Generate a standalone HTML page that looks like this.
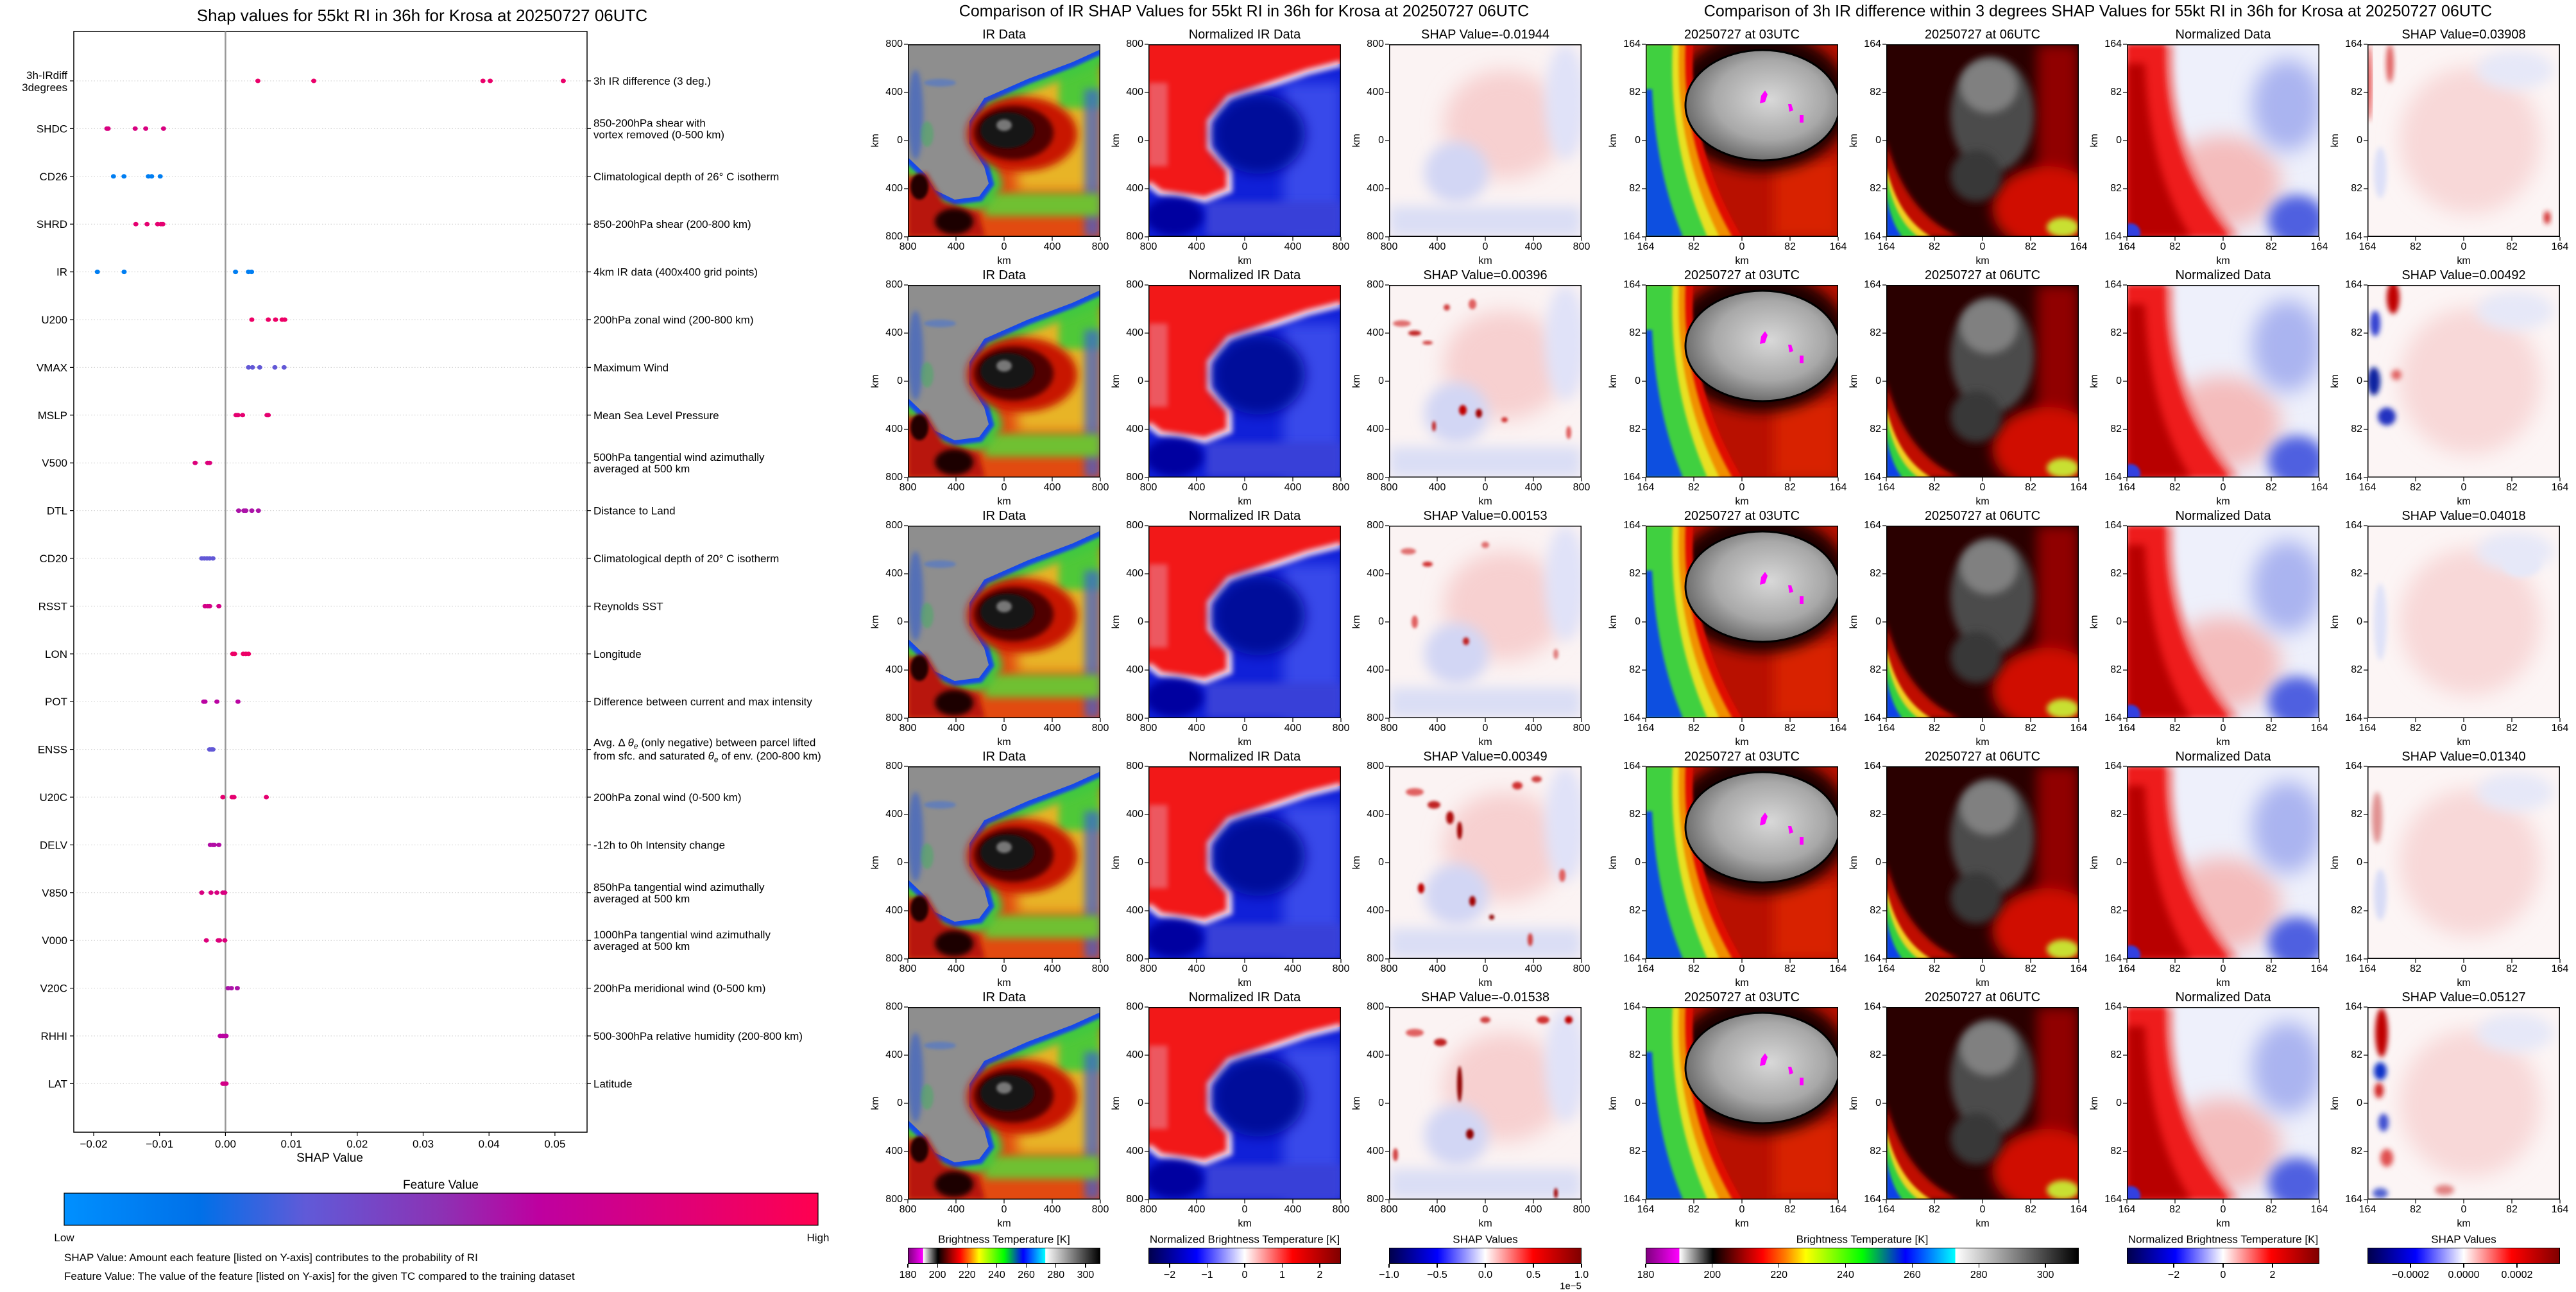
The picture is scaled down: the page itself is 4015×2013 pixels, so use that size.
<!DOCTYPE html>
<html><head><meta charset="utf-8">
<style>
body{margin:0;width:4015px;height:2009px;background:#fff;position:relative;overflow:hidden;font-family:"Liberation Sans",sans-serif;color:#000}
.t{position:absolute;white-space:nowrap;line-height:1}
.panel{position:absolute;width:300px;height:300px}
.panel svg{overflow:visible;display:block}
.cb{position:absolute;height:25px;box-sizing:border-box;border:1.5px solid #000}
</style></head>
<body>
<svg width="0" height="0" style="position:absolute"><defs>
<clipPath id="pc" clipPathUnits="userSpaceOnUse"><rect x="0" y="0" width="300" height="300"/></clipPath>
<filter id="b2" x="-50%" y="-50%" width="200%" height="200%"><feGaussianBlur stdDeviation="2"/></filter>
<filter id="b4" x="-50%" y="-50%" width="200%" height="200%"><feGaussianBlur stdDeviation="4"/></filter>
<filter id="b6" x="-50%" y="-50%" width="200%" height="200%"><feGaussianBlur stdDeviation="6"/></filter>
<filter id="b10" x="-50%" y="-50%" width="200%" height="200%"><feGaussianBlur stdDeviation="10"/></filter>
<filter id="b16" x="-50%" y="-50%" width="200%" height="200%"><feGaussianBlur stdDeviation="16"/></filter>
<radialGradient id="cloudG" cx="0.55" cy="0.45" r="0.6"><stop offset="0" stop-color="#d8d8d8"/><stop offset="0.6" stop-color="#a8a8a8"/><stop offset="1" stop-color="#606060"/></radialGradient>
</defs></svg>

<svg id="shapchart" width="1320" height="2009" style="position:absolute;left:0;top:0"></svg>

<script>
// ---------- SHAP summary chart data ----------
const features = ["3h-IRdiff|3degrees","SHDC","CD26","SHRD","IR","U200","VMAX","MSLP","V500","DTL","CD20","RSST","LON","POT","ENSS","U20C","DELV","V850","V000","V20C","RHHI","LAT"];
const descriptions = ["3h IR difference (3 deg.)","850-200hPa shear with|vortex removed (0-500 km)","Climatological depth of 26° C isotherm","850-200hPa shear (200-800 km)","4km IR data (400x400 grid points)","200hPa zonal wind (200-800 km)","Maximum Wind","Mean Sea Level Pressure","500hPa tangential wind azimuthally|averaged at 500 km","Distance to Land","Climatological depth of 20° C isotherm","Reynolds SST","Longitude","Difference between current and max intensity","ENSS","200hPa zonal wind (0-500 km)","-12h to 0h Intensity change","850hPa tangential wind azimuthally|averaged at 500 km","1000hPa tangential wind azimuthally|averaged at 500 km","200hPa meridional wind (0-500 km)","500-300hPa relative humidity (200-800 km)","Latitude"];
const shapVals = [
 [0.00492,0.01340,0.03908,0.04018,0.05127],
 [-0.0180,-0.0178,-0.0137,-0.0121,-0.0094],
 [-0.0170,-0.0154,-0.0117,-0.0112,-0.0099],
 [-0.0136,-0.0119,-0.0103,-0.0098,-0.0095],
 [-0.01944,-0.01538,0.00153,0.00349,0.00396],
 [0.0040,0.0065,0.0076,0.0086,0.0090],
 [0.0035,0.0041,0.0052,0.0075,0.0089],
 [0.0016,0.0019,0.0026,0.0063,0.0065],
 [-0.0046,-0.0027,-0.0024],
 [0.0020,0.0028,0.0031,0.0040,0.0050],
 [-0.0036,-0.0032,-0.0028,-0.0024,-0.0019],
 [-0.0031,-0.0027,-0.0024,-0.0010],
 [0.0011,0.0014,0.0027,0.0031,0.0035],
 [-0.0033,-0.0031,-0.0013,0.0019],
 [-0.0024,-0.0021,-0.0019],
 [-0.0004,0.0010,0.0013,0.0062],
 [-0.0023,-0.0019,-0.0017,-0.0010],
 [-0.0036,-0.0022,-0.0013,-0.0004,-0.0001],
 [-0.0029,-0.0011,-0.0009,-0.0001],
 [0.0004,0.0009,0.0018],
 [-0.0008,-0.0004,0.0000,0.0001],
 [-0.0004,-0.0002,0.0001]
];
const featureVals = [0.88,0.78,0.1,0.85,0.1,0.9,0.33,0.85,0.8,0.58,0.33,0.75,0.9,0.62,0.33,0.85,0.6,0.78,0.8,0.58,0.62,0.75];
const xTickVals = [-0.02,-0.01,0,0.01,0.02,0.03,0.04,0.05];
const xTickLabels = ["\u22120.02","\u22120.01","0.00","0.01","0.02","0.03","0.04","0.05"];

const NS="http://www.w3.org/2000/svg";
const AX={l:115,r:915,t:49,b:1764};
function xS(v){return 351.4+v*10270;}
function yR(i){return 126+i*74.4;}
const cStops=[[0,[0,144,255]],[0.18,[0,112,232]],[0.32,[96,90,216]],[0.5,[140,50,180]],[0.63,[190,0,160]],[1,[255,0,80]]];
function fcol(v){for(let i=1;i<cStops.length;i++){if(v<=cStops[i][0]){const a=cStops[i-1],b=cStops[i];const f=(v-a[0])/(b[0]-a[0]);return 'rgb('+a[1].map((c,k)=>Math.round(c+(b[1][k]-c)*f)).join(',')+')';}}return 'rgb(255,0,80)';}
const S=document.getElementById('shapchart');
function sv(tag,attrs,parent){const e=document.createElementNS(NS,tag);for(const k in attrs)e.setAttribute(k,attrs[k]);(parent||S).appendChild(e);return e;}

let e;
e=sv('text',{x:658,y:33,'text-anchor':'middle','font-size':26,'font-family':'Liberation Sans'});e.textContent="Shap values for 55kt RI in 36h for Krosa at 20250727 06UTC";


e=sv('rect',{x:AX.l,y:AX.t,width:AX.r-AX.l,height:AX.b-AX.t,fill:'none',stroke:'#000','stroke-width':1.5});


e=sv('line',{x1:xS(0),x2:xS(0),y1:AX.t,y2:AX.b,stroke:'#999','stroke-width':2.5});



features.forEach((f,i)=>{
  const y=yR(i);
  const g=sv('line',{x1:AX.l,x2:AX.r,y1:y,y2:y,stroke:'#ccc','stroke-width':1,'stroke-dasharray':'1.5,3'});
  
  
  sv('line',{x1:AX.l-6,x2:AX.l,y1:y,y2:y,stroke:'#000','stroke-width':1.2});
  sv('line',{x1:AX.r,x2:AX.r+6,y1:y,y2:y,stroke:'#000','stroke-width':1.2});
  const parts=f.split('|');
  const tl=sv('text',{x:AX.l-10,y:y+6,'text-anchor':'end','font-size':17,'font-family':'Liberation Sans'});
  if(parts.length===1){tl.textContent=f;}else{
    const a=sv('tspan',{x:AX.l-10,y:y-3},tl);a.textContent=parts[0];
    const b=sv('tspan',{x:AX.l-10,y:y+16},tl);b.textContent=parts[1];}
  
  
  const tr=sv('text',{x:AX.r+10,y:y+6,'font-size':17,'font-family':'Liberation Sans'});
  const d=descriptions[i];
  if(f==='ENSS'){
    const a=sv('tspan',{x:AX.r+10,y:y-5},tr);a.innerHTML='Avg. \u0394 <tspan font-style="italic">\u03b8</tspan><tspan font-size="12" dy="4" font-style="italic">e</tspan><tspan dy="-4"> (only negative) between parcel lifted</tspan>';
    const b=sv('tspan',{x:AX.r+10,y:y+16},tr);b.innerHTML='from sfc. and saturated <tspan font-style="italic">\u03b8</tspan><tspan font-size="12" dy="4" font-style="italic">e</tspan><tspan dy="-4"> of env. (200-800 km)</tspan>';
  } else {
    const dp=d.split('|');
    if(dp.length===1){tr.textContent=d;}else{
      const a=sv('tspan',{x:AX.r+10,y:y-3},tr);a.textContent=dp[0];
      const b=sv('tspan',{x:AX.r+10,y:y+15},tr);b.textContent=dp[1];}
  }
  
  
  shapVals[i].forEach(v=>{
    const dot=sv('ellipse',{cx:xS(v),cy:y,rx:4,ry:3.5,fill:fcol(featureVals[i])});
    
    
  });
});
xTickVals.forEach((v,k)=>{
  sv('line',{x1:xS(v),x2:xS(v),y1:AX.b,y2:AX.b+6,stroke:'#000','stroke-width':1.2});
  const t=sv('text',{x:xS(v),y:AX.b+24,'text-anchor':'middle','font-size':17,'font-family':'Liberation Sans'});
  t.textContent=xTickLabels[k];
  
  
});
e=sv('text',{x:514,y:1810,'text-anchor':'middle','font-size':19,'font-family':'Liberation Sans'});e.textContent="SHAP Value";


e=sv('text',{x:687,y:1852,'text-anchor':'middle','font-size':19,'font-family':'Liberation Sans'});e.textContent="Feature Value";


const defs=sv('defs',{});
const lg=sv('linearGradient',{id:'fvG',x1:0,x2:1,y1:0,y2:0},defs);
cStops.forEach(s=>sv('stop',{offset:s[0],'stop-color':'rgb('+s[1].join(',')+')'},lg));
e=sv('rect',{x:100,y:1859,width:1175,height:50,fill:'url(#fvG)',stroke:'#000','stroke-width':1.2});


e=sv('text',{x:100,y:1934,'text-anchor':'middle','font-size':17,'font-family':'Liberation Sans'});e.textContent="Low";


e=sv('text',{x:1275,y:1934,'text-anchor':'middle','font-size':17,'font-family':'Liberation Sans'});e.textContent="High";


e=sv('text',{x:100,y:1965,'font-size':17,'font-family':'Liberation Sans'});e.textContent="SHAP Value: Amount each feature [listed on Y-axis] contributes to the probability of RI";


e=sv('text',{x:100,y:1994,'font-size':17,'font-family':'Liberation Sans'});e.textContent="Feature Value: The value of the feature [listed on Y-axis] for the given TC compared to the training dataset";



// ---------- image panels ----------
const rowTops=[69,444,819,1194,1569];
const leftCols=[1415,1790,2165];
const rightCols=[2565,2940,3315,3690];
const leftShap=["SHAP Value=-0.01944","SHAP Value=0.00396","SHAP Value=0.00153","SHAP Value=0.00349","SHAP Value=-0.01538"];
const rightShap=["SHAP Value=0.03908","SHAP Value=0.00492","SHAP Value=0.04018","SHAP Value=0.01340","SHAP Value=0.05127"];

function T(str,x,y,size,ax,rot){
  const d=document.createElement('div');
  d.className='t';d.textContent=str;
  d.style.left=x+'px';d.style.top=y+'px';d.style.fontSize=size+'px';
  const tx=ax==='c'?'-50%':ax==='r'?'-100%':'0';
  d.style.transform='translate('+tx+',-50%)'+(rot?' rotate(-90deg)':'');
  document.body.appendChild(d);return d;
}

const Gopen="M300,8 L256,28 L187,54 L119,84 L96,120 L96,155 L119,191 L126,217 L111,237 L73,242 L42,227 L27,202 L0,176";
const IRsvg=`<rect width="300" height="300" fill="#e24a10"/>
<rect x="170" y="40" width="130" height="190" fill="#e8b428" filter="url(#b10)"/>
<rect x="235" y="10" width="65" height="90" fill="#50c838" filter="url(#b6)"/>
<rect x="275" y="70" width="25" height="230" fill="#3a60d8" opacity="0.7" filter="url(#b6)"/>
<rect x="120" y="232" width="180" height="36" fill="#70c030" filter="url(#b6)"/>
<path d="${Gopen}" fill="none" stroke="#40c840" stroke-width="40" filter="url(#b6)"/>
<path d="${Gopen}" fill="none" stroke="#1848e8" stroke-width="16" filter="url(#b2)"/>
<path d="M0,0 L300,0 L${Gopen.slice(1)} Z" fill="#8e8e8e"/>
<ellipse cx="12" cy="110" rx="12" ry="70" fill="#2858d8" opacity="0.55" filter="url(#b4)"/>
<ellipse cx="50" cy="60" rx="25" ry="6" fill="#3a70e0" opacity="0.5" filter="url(#b2)"/>
<ellipse cx="30" cy="140" rx="10" ry="20" fill="#40b060" opacity="0.5" filter="url(#b2)"/>
<path d="M0,208 L28,200 L55,245 L110,262 L120,300 L0,300Z" fill="#b81808" filter="url(#b4)"/>
<ellipse cx="72" cy="276" rx="30" ry="20" fill="#1a0000" filter="url(#b4)"/>
<ellipse cx="18" cy="222" rx="14" ry="20" fill="#200000" filter="url(#b2)"/>
<ellipse cx="178" cy="140" rx="86" ry="58" fill="#c81800" filter="url(#b6)"/>
<ellipse cx="165" cy="138" rx="62" ry="42" fill="#500000" filter="url(#b4)"/>
<ellipse cx="155" cy="134" rx="42" ry="28" fill="#141414" filter="url(#b2)"/>
<ellipse cx="150" cy="126" rx="12" ry="9" fill="#777" filter="url(#b2)"/>`;
const Ropen="M300,30 L248,43 L187,64 L126,84 L96,120 L96,161 L126,196 L126,227 L88,242 L19,232 L0,217";
const NORMsvg=`<rect width="300" height="300" fill="#1020d8"/>
<rect x="210" y="60" width="90" height="240" fill="#3848ea" filter="url(#b10)"/>
<rect x="90" y="245" width="210" height="55" fill="#3840d8" filter="url(#b6)"/>
<path d="M0,0 L300,0 L${Ropen.slice(1)} Z" fill="#f21818"/>
<path d="${Ropen}" fill="none" stroke="#e8d0e8" stroke-width="10" filter="url(#b4)"/>
<rect x="0" y="60" width="30" height="130" fill="#e898a8" opacity="0.5" filter="url(#b4)"/>
<ellipse cx="172" cy="140" rx="72" ry="62" fill="#000a9a" filter="url(#b10)"/>
<ellipse cx="40" cy="268" rx="45" ry="30" fill="#0000a0" filter="url(#b6)"/>`;
const shapSpeck=[
 [],
 [[20,60,14,5,'#e07070'],[40,75,10,4,'#c02020'],[60,90,8,3,'#d04040'],[115,195,6,8,'#c00000'],[140,200,5,7,'#a00000'],[70,220,3,8,'#c02020'],[180,210,5,4,'#d03030'],[280,230,4,10,'#e06060'],[130,30,6,8,'#e06060'],[90,35,5,5,'#d04040']],
 [[30,40,12,5,'#e07070'],[60,60,8,4,'#d03030'],[120,180,5,6,'#c02020'],[40,150,5,10,'#e06060'],[150,30,6,5,'#e07070'],[260,200,4,8,'#e08080']],
 [[40,40,14,6,'#e06060'],[70,60,10,6,'#c02020'],[95,80,6,10,'#b01010'],[110,100,4,14,'#a00000'],[50,190,5,8,'#c00000'],[130,210,5,8,'#a00000'],[160,235,4,4,'#900000'],[200,30,8,6,'#d03030'],[230,20,8,5,'#d04040'],[270,170,5,10,'#e06060'],[220,270,4,10,'#d04040']],
 [[40,40,14,6,'#e06060'],[80,55,10,6,'#c02020'],[110,120,4,28,'#900000'],[126,198,6,8,'#900000'],[150,20,8,5,'#d04040'],[240,20,10,6,'#d03030'],[280,20,6,6,'#c00000'],[260,290,3,8,'#a00000'],[10,230,4,10,'#d04040']]
];
function SHAPsvg(r){
  let s=`<rect width="300" height="300" fill="#fbf3f3"/>
<ellipse cx="180" cy="125" rx="95" ry="85" fill="#f7d0d0" filter="url(#b16)"/>
<ellipse cx="105" cy="200" rx="50" ry="48" fill="#d2d6f4" filter="url(#b10)"/>
<rect x="0" y="252" width="300" height="48" fill="#dadef5" filter="url(#b10)"/>
<ellipse cx="275" cy="90" rx="32" ry="90" fill="#e0e2f8" filter="url(#b10)"/>`;
  shapSpeck[r].forEach(p=>{s+=`<ellipse cx="${p[0]}" cy="${p[1]}" rx="${p[2]}" ry="${p[3]}" fill="${p[4]}" filter="url(#b2)"/>`;});
  return s;
}
const D03svg=`<rect width="300" height="300" fill="#b81000"/>
<rect x="200" y="180" width="100" height="120" fill="#d82000" filter="url(#b10)"/>
<ellipse cx="180" cy="90" rx="138" ry="108" fill="#1a0000" filter="url(#b10)"/>
<path d="M0,0 L74,0 Q66,160 150,300 L0,300Z" fill="#e01000" filter="url(#b2)"/>
<path d="M0,0 L62,0 Q55,160 135,300 L0,300Z" fill="#f09000" filter="url(#b2)"/>
<path d="M0,0 L52,0 Q45,160 115,300 L0,300Z" fill="#e8e020" filter="url(#b2)"/>
<path d="M0,0 L42,0 Q35,160 96,300 L0,300Z" fill="#40d040" filter="url(#b2)"/>
<path d="M0,70 L10,70 Q16,200 58,300 L0,300Z" fill="#1050e0" filter="url(#b2)"/>
<ellipse cx="182" cy="95" rx="120" ry="86" fill="url(#cloudG)" stroke="#000" stroke-width="3"/>
<path d="M180,80 l6,-8 l4,6 l-4,12 l-8,2Z" fill="#ff00ff"/>
<path d="M222,93 l5,0 l3,10 l-6,2Z" fill="#ff00ff"/>
<path d="M240,110 l6,0 l0,12 l-6,0Z" fill="#ff00ff"/>`;
const D06svg=`<rect width="300" height="300" fill="#2a0000"/>
<rect x="235" y="0" width="65" height="300" fill="#900000" filter="url(#b10)"/>
<ellipse cx="250" cy="255" rx="85" ry="65" fill="#d01000" filter="url(#b10)"/>
<ellipse cx="275" cy="285" rx="25" ry="15" fill="#c8e030" filter="url(#b4)"/>
<path d="M0,150 Q30,265 115,300 L0,300Z" fill="#c01000" filter="url(#b4)"/>
<path d="M0,190 Q18,270 70,300 L0,300Z" fill="#f0d020" filter="url(#b2)"/>
<path d="M0,205 Q14,275 50,300 L0,300Z" fill="#30d040" filter="url(#b2)"/>
<path d="M0,235 Q8,280 25,300 L0,300Z" fill="#1040e8" filter="url(#b2)"/>
<ellipse cx="165" cy="110" rx="65" ry="90" fill="#4c4c4c" filter="url(#b6)"/>
<ellipse cx="160" cy="65" rx="45" ry="42" fill="#808080" filter="url(#b6)"/>
<ellipse cx="140" cy="205" rx="40" ry="40" fill="#383838" filter="url(#b6)"/>`;
const NDsvg=`<rect width="300" height="300" fill="#eef0fb"/>
<ellipse cx="150" cy="215" rx="90" ry="72" fill="#f4bcbc" filter="url(#b16)"/>
<ellipse cx="250" cy="95" rx="55" ry="72" fill="#aab4f0" filter="url(#b16)"/>
<ellipse cx="265" cy="275" rx="45" ry="40" fill="#5060e0" filter="url(#b10)"/>
<path d="M0,0 L72,0 Q66,170 175,300 L0,300Z" fill="#f07a7a" filter="url(#b6)"/>
<path d="M0,0 L60,0 Q54,170 160,300 L0,300Z" fill="#ee1a1a" filter="url(#b4)"/>
<path d="M0,30 L28,30 Q35,200 100,300 L0,300Z" fill="#b80000" filter="url(#b6)"/>
<ellipse cx="6" cy="294" rx="15" ry="15" fill="#3040e0" filter="url(#b2)"/>`;
const rightSpeck=[
 [[3,60,3,60,'#e02020'],[35,30,6,30,'#e06060'],[280,270,5,10,'#d02020'],[20,200,10,40,'#dde0f8']],
 [[40,20,10,25,'#c00000'],[12,60,8,20,'#3040d0'],[10,150,10,22,'#1020a0'],[30,205,14,14,'#2030c0'],[45,140,8,8,'#e06060']],
 [[20,150,10,60,'#dfe2f8'],[240,60,30,20,'#e6e8f8']],
 [[15,80,8,40,'#e09090'],[20,200,10,40,'#d8dcf6']],
 [[22,40,10,38,'#c00000'],[20,100,10,14,'#1030c8'],[18,130,7,12,'#d02020'],[25,180,8,14,'#4050d0'],[30,235,10,14,'#e05050'],[20,290,12,8,'#5060d0'],[120,285,15,8,'#e08080']]
];
function RSsvg(r){
  let s=`<rect width="300" height="300" fill="#fcf5f5"/>
<ellipse cx="160" cy="150" rx="110" ry="115" fill="#f8d8d8" filter="url(#b16)"/>
<ellipse cx="230" cy="40" rx="60" ry="30" fill="#e6e8f8" filter="url(#b10)"/>`;
  rightSpeck[r].forEach(p=>{s+=`<ellipse cx="${p[0]}" cy="${p[1]}" rx="${p[2]}" ry="${p[3]}" fill="${p[4]}" filter="url(#b4)"/>`;});
  return s;
}

function panel(x,y,inner,name,ticks,ylabel){
  const d=document.createElement('div');
  d.className='panel';d.style.left=x+'px';d.style.top=y+'px';
  
  
  let tk='';
  for(let k=0;k<5;k++){const p=k*75;tk+=`<line x1="${p}" x2="${p}" y1="300" y2="306" stroke="#000" stroke-width="1.2"/><line x1="-6" x2="0" y1="${p}" y2="${p}" stroke="#000" stroke-width="1.2"/>`;}
  d.innerHTML=`<svg width="300" height="300" viewBox="0 0 300 300"><g clip-path="url(#pc)">${inner}</g><rect x="0.75" y="0.75" width="298.5" height="298.5" fill="none" stroke="#000" stroke-width="1.5"/>${tk}</svg>`;
  document.body.appendChild(d);
  for(let k=0;k<5;k++){
    let t=T(ticks[k],x+k*75,y+316,16,'c');
    
    
    t=T(ticks[k],x-8,y+k*75,16,'r');
    
    
  }
  let t=T('km',x+150,y+338,16,'c');
  
  
  if(ylabel){
    t=T('km',x-50,y+150,16,'c',true);
    
    
  }
}
const tL=["800","400","0","400","800"];
const tR=["164","82","0","82","164"];
rowTops.forEach((y,r)=>{
  const specs=[[leftCols[0],'IR Data',IRsvg,'ir-data-image',tL],[leftCols[1],'Normalized IR Data',NORMsvg,'normalized-ir-image',tL],[leftCols[2],leftShap[r],SHAPsvg(r),'ir-shap-image',tL],
    [rightCols[0],'20250727 at 03UTC',D03svg,'ir-03utc-image',tR],[rightCols[1],'20250727 at 06UTC',D06svg,'ir-06utc-image',tR],[rightCols[2],'Normalized Data',NDsvg,'normalized-diff-image',tR],[rightCols[3],rightShap[r],RSsvg(r),'diff-shap-image',tR]];
  specs.forEach(s=>{
    panel(s[0],y,s[2],s[3],s[4],true);
    const t=T(s[1],s[0]+150,y-15,20,'c');
    
    
  });
});
e=T("Comparison of IR SHAP Values for 55kt RI in 36h for Krosa at 20250727 06UTC",1939,18,25,'c');


e=T("Comparison of 3h IR difference within 3 degrees SHAP Values for 55kt RI in 36h for Krosa at 20250727 06UTC",3270,18,25,'c');



// ---------- colorbars ----------
const btGrad="linear-gradient(to right,#800080 0%,#ff00ff 7.6%,#ffffff 7.7%,#000 15.4%,#b00000 23.1%,#ff0000 26.9%,#ff8000 32.3%,#ffff00 36.9%,#00ff00 50%,#0000ff 60%,#00ffff 71.5%,#ffffff 71.6%,#000 100%)";
const seis="linear-gradient(to right,#00004c 0%,#0000ff 25%,#ffffff 50%,#ff0000 75%,#800000 100%)";
const btTicks=[180,200,220,240,260,280,300];
const normTicksL=[-2,-1,0,1,2];
const shapTicksL=[-1.0,-0.5,0,0.5,1.0];
const shapTickLabelsL=["\u22121.0","\u22120.5","0.0","0.5","1.0"];
const normTicksR=[-2,0,2];
const shapTicksR=[-0.0002,0,0.0002];
const shapTickLabelsR=["\u22120.0002","0.0000","0.0002"];
function cbar(x,w,grad,title,name,ticks,labels,fx){
  const d=document.createElement('div');d.className='cb';
  d.style.left=x+'px';d.style.top='1944px';d.style.width=w+'px';d.style.background=grad;
  
  
  document.body.appendChild(d);
  let t=T(title,x+w/2,1931,17,'c');
  
  
  ticks.forEach((v,k)=>{
    const px=fx(v);
    const tk=document.createElement('div');
    tk.style.cssText='position:absolute;width:1.2px;height:6px;background:#000;top:1969px;left:'+(px-0.6)+'px';
    
    
    document.body.appendChild(tk);
    const tl=T(labels[k],px,1987,16,'c');
    
    
  });
}
cbar(1415,300,btGrad,"Brightness Temperature [K]","bt-colorbar-left",btTicks,btTicks.map(String),v=>1415+(v-180)/130*300);
cbar(1790,300,seis,"Normalized Brightness Temperature [K]","norm-colorbar-left",normTicksL,normTicksL.map(v=>v<0?"\u2212"+(-v):String(v)),v=>1940+v*58.5);
cbar(2165,300,seis,"SHAP Values","shap-colorbar-left",shapTicksL,shapTickLabelsL,v=>2315+v*150);
cbar(2565,675,btGrad,"Brightness Temperature [K]","bt-colorbar-right",btTicks,btTicks.map(String),v=>2565+(v-180)/130*675);
cbar(3315,300,seis,"Normalized Brightness Temperature [K]","norm-colorbar-right",normTicksR,normTicksR.map(v=>v<0?"\u2212"+(-v):String(v)),v=>3465+v*38.5);
cbar(3690,300,seis,"SHAP Values","shap-colorbar-right",shapTicksR,shapTickLabelsR,v=>3840+v/0.0002*83);
e=T("1e\u22125",2448,2004,15,'c');


</script>
</body></html>
